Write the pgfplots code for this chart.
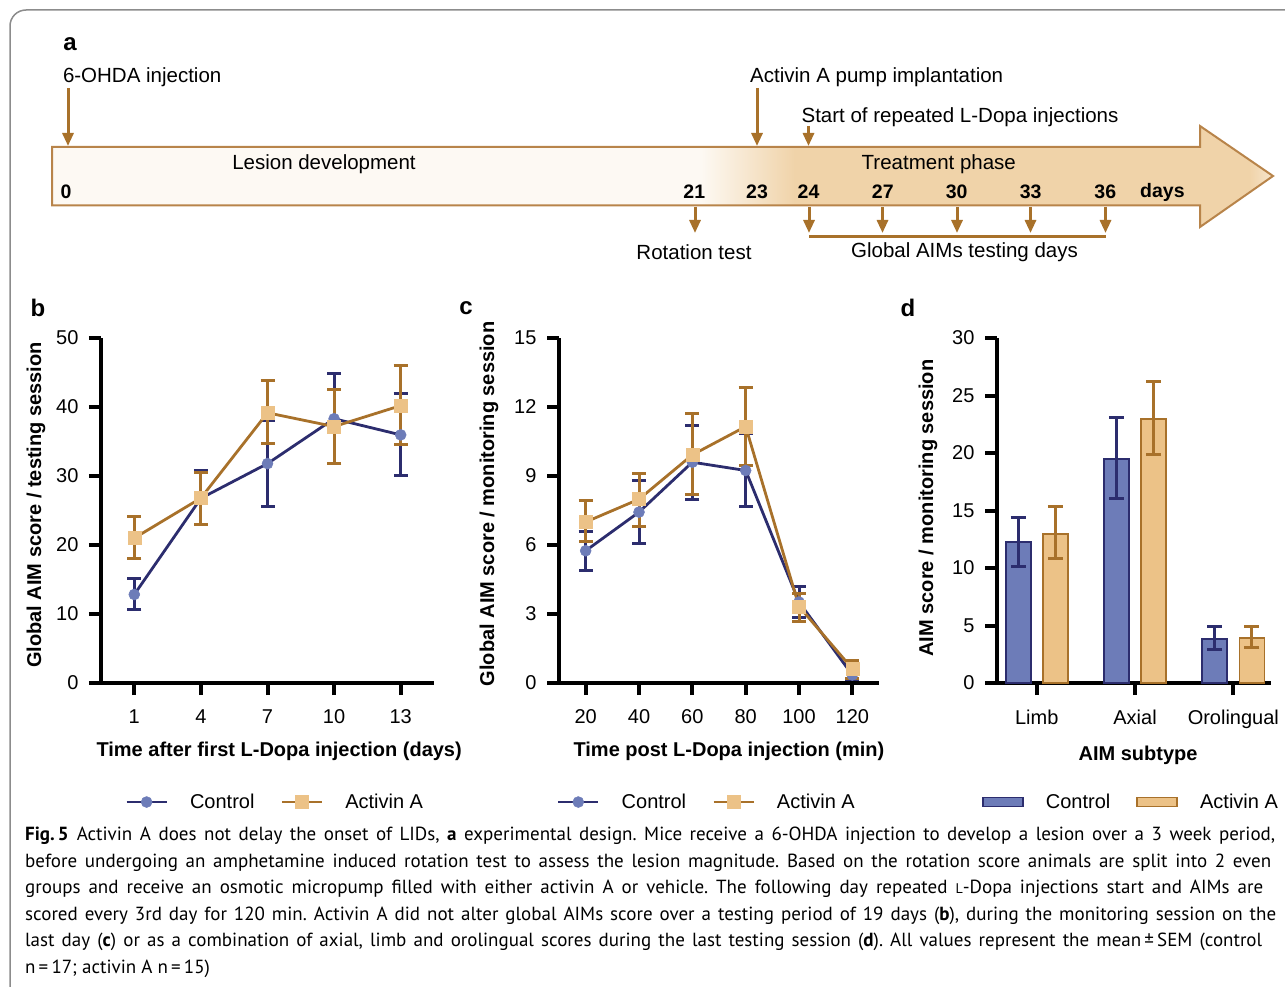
\documentclass[border=0pt]{standalone}
\usepackage{pgfplots}
\pgfplotsset{compat=1.18}
\usepackage{pgfplotstable}
\usepackage{fontspec}
\setmainfont{Liberation Sans}
\newfontfamily\capfont{PT Sans}
\usetikzlibrary{arrows.meta}

\definecolor{cnavy}{HTML}{2C2D6E}
\definecolor{navyfill}{HTML}{6D7CB8}
\definecolor{cbrown}{HTML}{A8712A}
\definecolor{tanfill}{HTML}{ECC287}
\definecolor{cream}{HTML}{FDF9F3}
\definecolor{tlfill}{HTML}{F0D3A9}
\definecolor{tledge}{HTML}{B8844A}
\definecolor{framegray}{HTML}{8C8C8C}

\pgfplotstableread{
x y ep em
1 12.83 2.27 2.18
4 26.77 4.03 3.73
7 31.8 6.2 6.24
10 38.3 6.5 6.55
13 35.96 6.0 5.9
}\bctrl
\pgfplotstableread{
x y ep em
1 21.0 3.15 2.9
4 26.8 3.65 3.76
7 39.16 4.69 4.5
10 37.17 5.33 5.42
13 40.2 5.8 5.64
}\bact
\pgfplotstableread{
x y ep em
20 5.75 0.84 0.84
40 7.43 1.37 1.35
60 9.6 1.6 1.6
80 9.24 1.62 1.58
100 3.52 0.69 0.69
120 0.35 0.45 0.2
}\cctrl
\pgfplotstableread{
x y ep em
20 7.0 0.93 0.86
40 7.99 1.14 1.17
60 9.92 1.81 1.71
80 11.15 1.69 1.7
100 3.33 0.58 0.65
120 0.62 0.36 0.43
}\cact
\pgfplotstableread{
x y ep em
0 12.23 2.19 2.06
1 19.5 3.63 3.42
2 3.85 1.05 0.94
}\dctrl
\pgfplotstableread{
x y ep em
0 12.96 2.39 2.16
1 22.93 3.26 3.09
2 3.9 1.0 0.84
}\dact

\pgfplotsset{
  panel/.style={
    scale only axis, height=345pt,
    axis lines=left,
    axis line style={-, line width=4pt, black},
    tick align=outside,
    major tick length=12pt,
    every tick/.style={line width=4pt, black},
    tick label style={font=\fontsize{20}{24}\selectfont},
    xticklabel style={yshift=-11pt},
    yticklabel style={xshift=-7pt},
    label style={font=\bfseries\fontsize{20}{24}\selectfont},
    /pgf/number format/assume math mode=true,
    clip=false,
    legend columns=2,
    legend style={draw=none, fill=none, font=\fontsize{20}{24}\selectfont, anchor=center,
      /tikz/every odd column/.append style={column sep=20pt},
      /tikz/every even column/.append style={column sep=24pt}},
  },
  lineleg/.style={legend image code/.code={\draw[mark repeat=2,mark phase=2,##1] plot coordinates {(0pt,0pt)(20pt,0pt)(40pt,0pt)};}},
  barleg/.style={legend image code/.code={\draw[##1] (0pt,-4.5pt) rectangle (40pt,4.5pt);}},
  ctrl/.style={color=cnavy, line width=2.8pt, mark=*, mark size=5.5pt,
    mark options={fill=navyfill, draw=navyfill, line width=0.5pt},
    error bars/y dir=both, error bars/y explicit,
    error bars/error bar style={line width=3pt, cnavy},
    error bars/error mark options={rotate=90, mark size=7pt, line width=3pt, cnavy}},
  act/.style={color=cbrown, line width=2.8pt, mark=square*, mark size=6.5pt,
    mark options={fill=tanfill, draw=tanfill, line width=0.5pt},
    error bars/y dir=both, error bars/y explicit,
    error bars/error bar style={line width=3pt, cbrown},
    error bars/error mark options={rotate=90, mark size=7pt, line width=3pt, cbrown}},
  ebar/.style={draw=none, no marks, forget plot,
    error bars/y dir=both, error bars/y explicit,
    error bars/error bar style={line width=3pt, draw=#1},
    error bars/error mark options={rotate=90, mark size=7.5pt, line width=3pt, draw=#1}},
}

\begin{document}
\begin{tikzpicture}
\path[use as bounding box] (0pt,0pt) rectangle (1285pt,-987pt);
% frame
\draw[framegray, line width=1.5pt] (10pt,-990pt) -- (10pt,-26pt) arc[start angle=180,end angle=90,radius=16pt] -- (1290pt,-10pt);

% ---------- panel a: timeline ----------
\begin{scope}
\clip (52pt,-147pt) -- (1200pt,-147pt) -- (1200pt,-126pt) -- (1273pt,-176pt) -- (1200pt,-227pt) -- (1200pt,-205.5pt) -- (52pt,-205.5pt) -- cycle;
\fill[cream] (40pt,-120pt) rectangle (702pt,-235pt);
\shade[left color=cream, right color=tlfill] (701pt,-120pt) rectangle (795pt,-235pt);
\fill[tlfill] (794pt,-120pt) rectangle (1250pt,-235pt);
\shade[left color=tlfill, right color=tlfill!55!white] (1249pt,-120pt) rectangle (1275pt,-235pt);
\end{scope}
\draw[tledge, line width=2pt, line join=miter] (52pt,-147pt) -- (1200pt,-147pt) -- (1200pt,-126pt) -- (1273pt,-176pt) -- (1200pt,-227pt) -- (1200pt,-205.5pt) -- (52pt,-205.5pt) -- cycle;

\begin{scope}[cbrown, line width=3pt, -{Triangle[width=11pt,length=13pt]}]
\draw (68pt,-88pt) -- (68pt,-146pt);
\draw (757pt,-88pt) -- (757pt,-146pt);
\draw (808.5pt,-126pt) -- (808.5pt,-146pt);
\draw (695pt,-207pt) -- (695pt,-233pt);
\draw (809pt,-207pt) -- (809pt,-233pt);
\draw (882.5pt,-207pt) -- (882.5pt,-233pt);
\draw (957pt,-207pt) -- (957pt,-233pt);
\draw (1030.5pt,-207pt) -- (1030.5pt,-233pt);
\draw (1105.5pt,-207pt) -- (1105.5pt,-233pt);
\end{scope}
\draw[cbrown, line width=3pt] (809pt,-237pt) -- (1106pt,-237pt);

\begin{scope}[every node/.style={inner sep=0pt, font=\fontsize{20.5}{24}\selectfont}]
\node[font=\bfseries\fontsize{24}{28}\selectfont] at (70pt,-44pt) {a};
\node[anchor=west] at (62.8pt,-77.5pt) {6-OHDA injection};
\node[anchor=west] at (750pt,-77.5pt) {Activin A pump implantation};
\node[anchor=west] at (801.4pt,-117.5pt) {Start of repeated L-Dopa injections};
\node at (324pt,-164pt) {Lesion development};
\node at (938.8pt,-164pt) {Treatment phase};
\node at (694pt,-252pt) {Rotation test};
\node at (964.5pt,-252pt) {Global AIMs testing days};
\end{scope}
\begin{scope}[every node/.style={inner sep=0pt, font=\bfseries\fontsize{19.5}{24}\selectfont}]
\node at (66pt,-192pt) {0};
\node at (694.3pt,-192pt) {21};
\node at (757pt,-192pt) {23};
\node at (808.5pt,-192pt) {24};
\node at (882.8pt,-192pt) {27};
\node at (956.6pt,-192pt) {30};
\node at (1030.6pt,-192pt) {33};
\node at (1105.3pt,-192pt) {36};
\node at (1162.4pt,-192pt) {days};
\end{scope}

% panel letters
\begin{scope}[every node/.style={inner sep=0pt, font=\bfseries\fontsize{24}{28}\selectfont}]
\node at (38pt,-308pt) {b};
\node at (466pt,-308pt) {c};
\node at (908pt,-308pt) {d};
\end{scope}

% ---------- panel b ----------
\begin{axis}[panel, lineleg, at={(101pt,-683pt)}, anchor=south west, width=333pt,
  xmin=-0.5, xmax=14.5, ymin=0, ymax=50,
  xtick={1,4,7,10,13}, ytick={0,10,20,30,40,50},
  xlabel={Time after first L-Dopa injection (days)},
  ylabel={Global AIM score / testing session},
  xlabel style={at={(axis description cs:0.535,-0.197)}, anchor=center},
  ylabel style={at={(axis description cs:-0.195,0.516)}, anchor=center},
  legend style={at={(0.523,-0.345)}},
]
\addplot[ctrl] table[x=x,y=y,y error plus=ep,y error minus=em] {\bctrl};
\addplot[act] table[x=x,y=y,y error plus=ep,y error minus=em] {\bact};
\legend{Control,Activin A}
\end{axis}

% ---------- panel c ----------
\begin{axis}[panel, lineleg, at={(559pt,-683pt)}, anchor=south west, width=320pt,
  xmin=10, xmax=130, ymin=0, ymax=15,
  xtick={20,40,60,80,100,120}, ytick={0,3,6,9,12,15},
  xlabel={Time post L-Dopa injection (min)},
  ylabel={Global AIM score / monitoring session},
  xlabel style={at={(axis description cs:0.531,-0.197)}, anchor=center},
  ylabel style={at={(axis description cs:-0.219,0.519)}, anchor=center},
  legend style={at={(0.462,-0.345)}},
]
\addplot[ctrl] table[x=x,y=y,y error plus=ep,y error minus=em] {\cctrl};
\addplot[act] table[x=x,y=y,y error plus=ep,y error minus=em] {\cact};
\legend{Control,Activin A}
\end{axis}

% ---------- panel d ----------
\begin{axis}[panel, at={(997pt,-683pt)}, anchor=south west, width=274pt,
  xmin=-0.404, xmax=2.383, ymin=0, ymax=30,
  xtick={0,1,2}, xticklabels={Limb,Axial,Orolingual}, ytick={0,5,10,15,20,25,30},
  xlabel={AIM subtype},
  ylabel={AIM score / monitoring session},
  xlabel style={at={(axis description cs:0.515,-0.209)}, anchor=center},
  ylabel style={at={(axis description cs:-0.252,0.507)}, anchor=center},
  legend style={at={(0.489,-0.345)}},
]
\addplot[ybar, bar width=25pt, bar shift=-18.6pt, fill=navyfill, draw=cnavy, line width=1.8pt, barleg]
  table[x=x,y=y] {\dctrl};
\addplot[ybar, bar width=25pt, bar shift=18.6pt, fill=tanfill, draw=cbrown, line width=1.8pt, barleg]
  table[x=x,y=y] {\dact};
\addplot[ebar=cnavy] table[x expr=\thisrow{x}-0.1892,y=y,y error plus=ep,y error minus=em] {\dctrl};
\addplot[ebar=cbrown] table[x expr=\thisrow{x}+0.1892,y=y,y error plus=ep,y error minus=em] {\dact};
\legend{Control,Activin A}
\end{axis}

% ---------- caption ----------
\begin{scope}[every node/.style={anchor=west, inner sep=0pt, font=\capfont\fontsize{19}{23}\selectfont\frenchspacing}]
\node at (25pt,-836pt) {\makebox[1250pt][s]{\textbf{Fig.\,5}\hspace{8pt}Activin A does not delay the onset of LIDs, \textbf{a} experimental design. Mice receive a 6-OHDA injection to develop a lesion over a 3 week period,}};
\node at (25pt,-862.5pt) {\makebox[1246pt][s]{before undergoing an amphetamine induced rotation test to assess the lesion magnitude. Based on the rotation score animals are split into 2 even}};
\node at (25pt,-889pt) {\makebox[1238pt][s]{groups and receive an osmotic micropump filled with either activin A or vehicle. The following day repeated {\fontsize{14}{14}\selectfont L}-Dopa injections start and AIMs are}};
\node at (25pt,-915.5pt) {\makebox[1251pt][s]{scored every 3rd day for 120 min. Activin A did not alter global AIMs score over a testing period of 19 days (\textbf{b}), during the monitoring session on the}};
\node at (25pt,-942pt) {\makebox[1237pt][s]{last day (\textbf{c}) or as a combination of axial, limb and orolingual scores during the last testing session (\textbf{d}). All values represent the mean\,±\,SEM (control}};
\node at (25pt,-968.5pt) {n\,=\,17; activin A n\,=\,15)};
\end{scope}
\end{tikzpicture}
\end{document}
